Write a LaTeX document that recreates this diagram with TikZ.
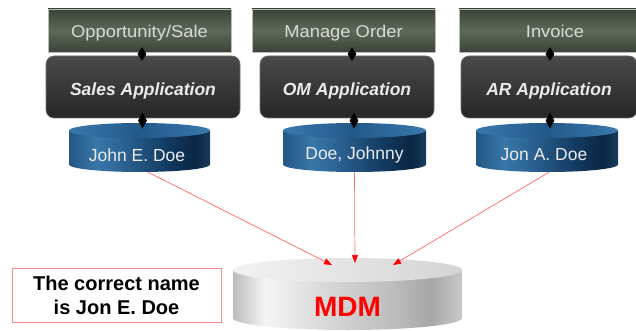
\documentclass[tikz,border=0pt]{standalone}
\usepackage{fontspec}
\setmainfont{Liberation Sans}
\newfontfamily\wideSans[FakeStretch=1.08]{Liberation Sans}
\usetikzlibrary{shapes.geometric,arrows.meta}
\definecolor{boxedge}{HTML}{B8BDB5}
\definecolor{boxdark}{HTML}{3B4338}
\definecolor{boxmid}{HTML}{5E6959}
\definecolor{apptop}{HTML}{4A4A4A}
\definecolor{appbot}{HTML}{262626}
\definecolor{appedge}{HTML}{707070}
\definecolor{bbA}{HTML}{245785}
\definecolor{bbB}{HTML}{3877A8}
\definecolor{bbC}{HTML}{2A6090}
\definecolor{bbD}{HTML}{123A60}
\definecolor{bbE}{HTML}{0A2642}
\definecolor{bbF}{HTML}{1A3D5E}
\definecolor{btA}{HTML}{3A78AC}
\definecolor{btB}{HTML}{23598A}
\definecolor{gbA}{HTML}{BCBCBC}
\definecolor{gbB}{HTML}{F4F4F4}
\definecolor{gbC}{HTML}{D8D8D8}
\definecolor{gbD}{HTML}{BDBDBD}
\definecolor{gbE}{HTML}{A6A6A6}
\definecolor{gbF}{HTML}{C8C8C8}
\definecolor{gtA}{HTML}{F2F2F2}
\definecolor{gtB}{HTML}{D4D4D4}
\definecolor{arrowred}{HTML}{FF6A6A}
\definecolor{noteedge}{HTML}{FF8C8C}
\definecolor{mdmred}{HTML}{FF0000}
\pgfdeclarehorizontalshading{bluebody}{100bp}{color(0bp)=(bbA); color(25bp)=(bbA); color(35bp)=(bbB); color(45bp)=(bbC); color(60bp)=(bbD); color(70bp)=(bbE); color(75bp)=(bbF); color(100bp)=(bbF)}
\pgfdeclarehorizontalshading{bluetop}{100bp}{color(0bp)=(btA); color(25bp)=(btA); color(50bp)=(btB); color(75bp)=(btA); color(100bp)=(btA)}
\pgfdeclarehorizontalshading{graybody}{100bp}{color(0bp)=(gbA); color(25bp)=(gbA); color(32bp)=(gbB); color(45bp)=(gbC); color(60bp)=(gbD); color(68bp)=(gbE); color(75bp)=(gbF); color(100bp)=(gbF)}
\pgfdeclarehorizontalshading{graytop}{100bp}{color(0bp)=(gtA); color(25bp)=(gtA); color(75bp)=(gtB); color(100bp)=(gtB)}
% #1 cx, #2 top y, #3 rx, #4 ry, #5 lowest y, #6 body shading, #7 top shading
\newcommand\dbcyl[7]{%
  \path[shading=#6] ({#1-#3},{#2+#4}) -- ({#1-#3},{#5-#4})
    arc[start angle=180, end angle=360, x radius=#3pt, y radius=#4pt]
    -- ({#1+#3},{#2+#4}) -- cycle;
  \path[shading=#7] (#1,{#2+#4}) ellipse[x radius=#3pt, y radius=#4pt];
}
\begin{document}
\begin{tikzpicture}[x=1pt,y=-1pt,
  topbox/.style={rectangle, minimum width=183pt, minimum height=43pt, inner sep=0pt,
    text height=16pt, text depth=1.5pt,
    draw=boxedge, line width=0.8pt, top color=boxdark, bottom color=boxdark, middle color=boxmid,
    text=white!85!black, font=\wideSans\fontsize{17}{20}\selectfont},
  appbox/.style={rectangle, rounded corners=8pt, minimum height=62pt, inner sep=0pt,
    text height=20pt, text depth=2pt,
    draw=appedge, line width=0.6pt, top color=apptop, bottom color=appbot,
    text=white!92!black, font=\bfseries\itshape\fontsize{17.5}{20}\selectfont},
  cyltext/.style={rectangle, inner sep=0pt, text=white!92!black, font=\fontsize{17.5}{20}\selectfont},
  junc/.style={diamond, fill=black, inner sep=0pt, minimum width=9pt, minimum height=14pt},
  redarrow/.style={draw=arrowred, line width=0.7pt, -{Triangle[length=8pt,width=6pt,color=red]}},
  notebox/.style={rectangle, draw=noteedge, line width=0.8pt, fill=white, align=center,
    minimum width=209pt, minimum height=54pt, inner sep=0pt,
    font=\bfseries\fontsize{20}{24}\selectfont}]
\useasboundingbox (0,0) rectangle (636,331);
\clip (0,0) rectangle (636,331);
\fill[white] (0,0) rectangle (636,331);

% top process boxes
\node[topbox] (op1) at (139.5,30.5) {Opportunity/Sale};
\node[topbox] (op2) at (343.5,30.5) {Manage Order};
\node[topbox, minimum width=192pt] (op3) at (555,30.5) {Invoice};

% applications
\node[appbox, minimum width=194pt] (app1) at (143,87) {Sales Application};
\node[appbox, minimum width=174pt] (app2) at (347,87) {OM Application};
\node[appbox, minimum width=176pt] (app3) at (549,87) {AR Application};

% databases
\dbcyl{139.5}{123}{70.5}{7.5}{172}{bluebody}{bluetop}
\dbcyl{354.5}{123}{71.5}{7.5}{172}{bluebody}{bluetop}
\dbcyl{547}{123}{71}{7.5}{172}{bluebody}{bluetop}
\node[cyltext, minimum width=141pt, minimum height=34pt] (db1) at (137,155) {John E. Doe};
\node[cyltext, minimum width=143pt, minimum height=34pt] (db2) at (354.5,155) {Doe, Johnny};
\node[cyltext, minimum width=142pt, minimum height=34pt] (db3) at (544,155) {Jon A. Doe};
\coordinate (t1) at (142.5,123);
\coordinate (t2) at (354,123);
\coordinate (t3) at (550,123);

% junction marks
\path ([xshift=2.5pt]op1.south) -- ([xshift=-1pt]app1.north) node[junc, midway] {};
\path ([xshift=8.5pt]op2.south) -- ([xshift=5pt]app2.north) node[junc, midway] {};
\path ([xshift=-5pt]op3.south) -- ([xshift=1pt]app3.north) node[junc, midway] {};
\path (app1.south -| t1) -- (t1) node[junc, midway, minimum height=16pt] {};
\path (app2.south -| t2) -- (t2) node[junc, midway, minimum height=16pt] {};
\path (app3.south -| t3) -- (t3) node[junc, midway, minimum height=16pt] {};

% MDM
\dbcyl{347.5}{258}{114.5}{12}{330}{graybody}{graytop}
\node[rectangle, inner sep=0pt, minimum width=229pt, minimum height=48pt,
  text=mdmred, font=\bfseries\fontsize{28}{32}\selectfont] (mdm) at (347.5,307) {MDM};
\coordinate (in1) at (332,265);
\coordinate (in2) at (355,263);
\coordinate (in3) at (393,265);

% arrows
\draw[redarrow] ([xshift=11pt]db1.south) -- (in1);
\draw[redarrow] (db2.south) -- (in2);
\draw[redarrow] ([xshift=5pt]db3.south) -- (in3);

% note
\node[notebox] (note) at (116.5,295) {The correct name\\is Jon E. Doe};
\end{tikzpicture}
\end{document}
